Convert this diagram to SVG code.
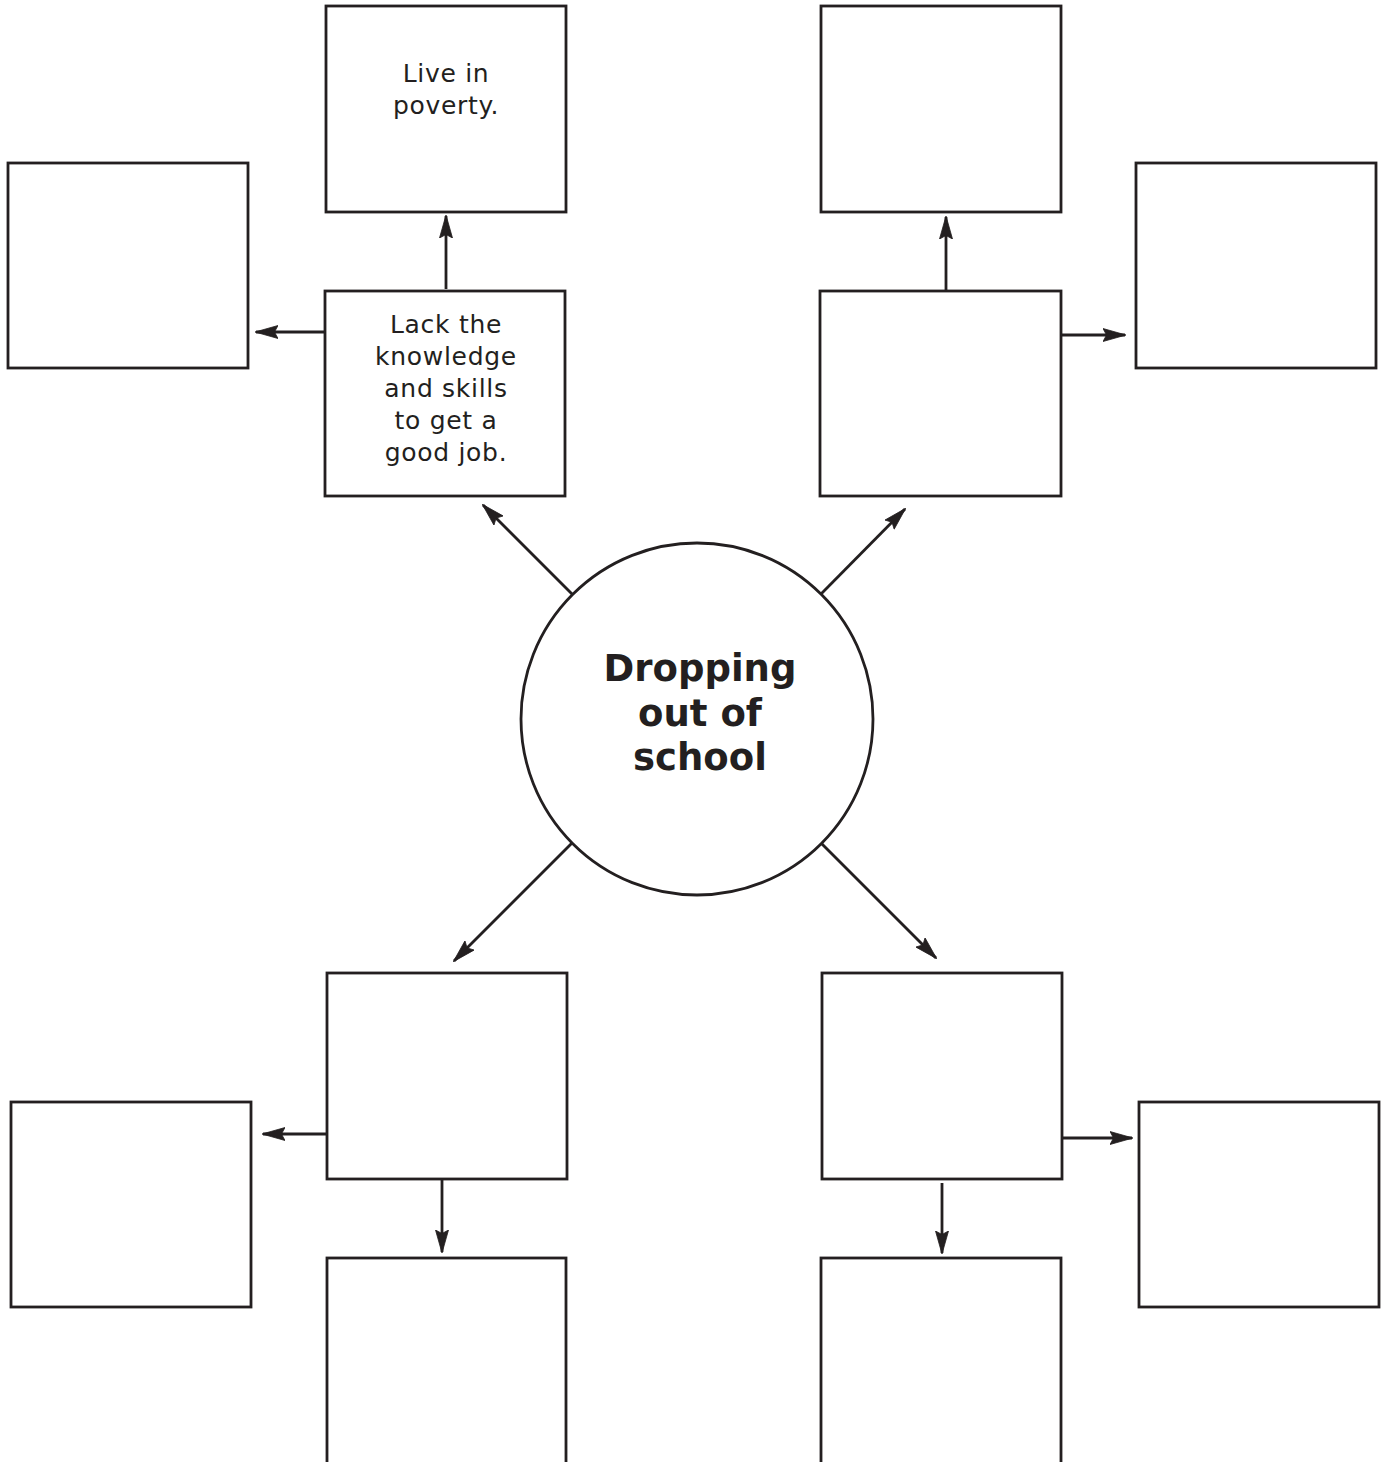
<svg xmlns="http://www.w3.org/2000/svg" width="1387" height="1462" viewBox="0 0 1387 1462">
<style>
.box{fill:#fff;stroke:#231f20;stroke-width:2.8}
.conn{stroke:#231f20;stroke-width:2.8;fill:none}
.lbl{font-family:"DejaVu Sans",Verdana,sans-serif;font-size:25px;fill:#231f20;text-anchor:middle;letter-spacing:0.7px}
.title{font-family:"DejaVu Sans",Verdana,sans-serif;font-size:37px;font-weight:bold;fill:#231f20;text-anchor:middle}
</style>
<defs>
<marker id="ah" viewBox="0 0 23 14" refX="22" refY="7" markerWidth="23" markerHeight="14" markerUnits="userSpaceOnUse" orient="auto">
<path d="M0,0.5 L23,7 L0,13.5 L3.5,7 Z" fill="#231f20" stroke="#231f20" stroke-width="0.8" stroke-linejoin="miter"/>
</marker>
</defs>
<rect width="1387" height="1462" fill="#fff"/>
<g id="connectors">
<line class="conn" x1="446" y1="289" x2="446" y2="216" marker-end="url(#ah)"/>
<line class="conn" x1="325" y1="332" x2="256" y2="332" marker-end="url(#ah)"/>
<line class="conn" x1="572" y1="594" x2="483" y2="505" marker-end="url(#ah)"/>
<line class="conn" x1="821" y1="594" x2="905" y2="509" marker-end="url(#ah)"/>
<line class="conn" x1="946" y1="290" x2="946" y2="217" marker-end="url(#ah)"/>
<line class="conn" x1="1062" y1="335" x2="1125" y2="335" marker-end="url(#ah)"/>
<line class="conn" x1="572" y1="843" x2="454" y2="961" marker-end="url(#ah)"/>
<line class="conn" x1="821" y1="843" x2="936" y2="958" marker-end="url(#ah)"/>
<line class="conn" x1="326" y1="1134" x2="263" y2="1134" marker-end="url(#ah)"/>
<line class="conn" x1="442" y1="1180" x2="442" y2="1252" marker-end="url(#ah)"/>
<line class="conn" x1="1063" y1="1138" x2="1132" y2="1138" marker-end="url(#ah)"/>
<line class="conn" x1="942" y1="1183" x2="942" y2="1253" marker-end="url(#ah)"/>
</g>
<g id="center">
<circle class="box" cx="697" cy="719" r="176"/>
<text class="title" x="700" y="681">Dropping</text>
<text class="title" x="700" y="726">out of</text>
<text class="title" x="700" y="770">school</text>
</g>
<g id="tl-top">
<rect class="box" x="326" y="6" width="240" height="206"/>
<text class="lbl" x="446" y="82">Live in</text>
<text class="lbl" x="446" y="114">poverty.</text>
</g>
<g id="tl-left"><rect class="box" x="8" y="163" width="240" height="205"/></g>
<g id="tl-main">
<rect class="box" x="325" y="291" width="240" height="205"/>
<text class="lbl" x="446" y="333">Lack the</text>
<text class="lbl" x="446" y="365">knowledge</text>
<text class="lbl" x="446" y="397">and skills</text>
<text class="lbl" x="446" y="429">to get a</text>
<text class="lbl" x="446" y="461">good job.</text>
</g>
<g id="tr-top"><rect class="box" x="821" y="6" width="240" height="206"/></g>
<g id="tr-main"><rect class="box" x="820" y="291" width="241" height="205"/></g>
<g id="tr-right"><rect class="box" x="1136" y="163" width="240" height="205"/></g>
<g id="bl-main"><rect class="box" x="327" y="973" width="240" height="206"/></g>
<g id="bl-left"><rect class="box" x="11" y="1102" width="240" height="205"/></g>
<g id="bl-bottom"><rect class="box" x="327" y="1258" width="239" height="220"/></g>
<g id="br-main"><rect class="box" x="822" y="973" width="240" height="206"/></g>
<g id="br-right"><rect class="box" x="1139" y="1102" width="240" height="205"/></g>
<g id="br-bottom"><rect class="box" x="821" y="1258" width="240" height="220"/></g>
</svg>
